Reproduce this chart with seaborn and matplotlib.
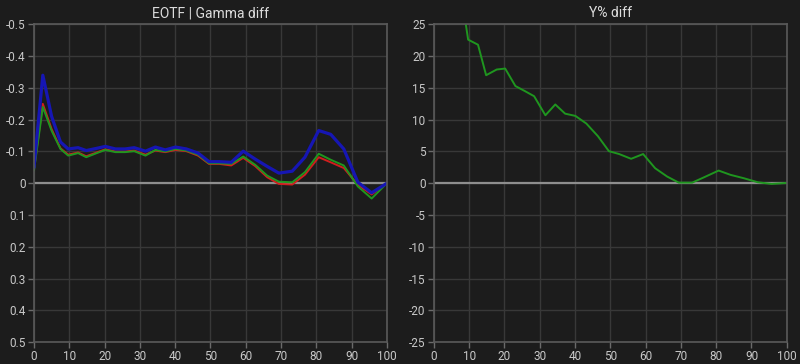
import numpy as np
import pandas as pd
import matplotlib
matplotlib.use('Agg')
import matplotlib.pyplot as plt
import seaborn as sns

# stimulus levels (%)
nivel = [0, 2.5, 5, 7.5, 9.7, 12.5, 14.8, 17.8, 20.2, 23.1, 25.8, 28.4, 31.6, 34.4, 37.2, 40.1,
         43.2, 46.5, 49.6, 52.5, 55.9, 59.3, 62.7, 66.1, 69.4, 73.2, 76.8, 80.7, 84.1, 87.8,
         91.8, 95.7, 100]

# EOTF gamma diff per channel
gamma_azul = [-0.05, -0.34, -0.21, -0.13, -0.108, -0.112, -0.103, -0.11, -0.116, -0.108, -0.108,
              -0.112, -0.101, -0.114, -0.105, -0.114, -0.108, -0.095, -0.068, -0.068, -0.066,
              -0.101, -0.076, -0.053, -0.032, -0.038, -0.082, -0.166, -0.154, -0.108, -0.003,
              0.03, 0.0]
gamma_verde = [-0.04, -0.24, -0.165, -0.108, -0.087, -0.095, -0.082, -0.095, -0.105, -0.098,
               -0.098, -0.101, -0.087, -0.105, -0.1, -0.108, -0.103, -0.09, -0.063, -0.063,
               -0.061, -0.084, -0.058, -0.024, -0.005, -0.003, -0.035, -0.093, -0.074, -0.056,
               0.01, 0.048, 0.0]
gamma_vermelho = [-0.045, -0.25, -0.17, -0.11, -0.09, -0.097, -0.085, -0.097, -0.107, -0.1,
                  -0.1, -0.103, -0.09, -0.103, -0.098, -0.105, -0.101, -0.087, -0.061, -0.061,
                  -0.056, -0.08, -0.054, -0.019, 0.002, 0.004, -0.027, -0.082, -0.066, -0.048,
                  0.005, 0.035, 0.0]

# Y% diff
y_diff = [100, 70, 45, 30.7, 22.6, 21.8, 17.0, 17.9, 18.05, 15.3, 14.5, 13.7, 10.7, 12.4, 10.95,
          10.6, 9.4, 7.4, 5.05, 4.6, 3.85, 4.6, 2.37, 1.06, 0.1, 0.1, 1.0, 2.0, 1.32, 0.8, 0.16,
          -0.1, 0.05]

ticks_gamma = [-0.5, -0.4, -0.3, -0.2, -0.1, 0, 0.1, 0.2, 0.3, 0.4, 0.5]
ticks_y = [25, 20, 15, 10, 5, 0, -5, -10, -15, -20, -25]
ticks_x = list(range(0, 101, 10))

fundo = '#1c1c1c'
sns.set_theme(style='dark', rc={
    'figure.facecolor': fundo, 'axes.facecolor': fundo,
    'axes.edgecolor': '#5a5a5a', 'grid.color': '#383838',
    'text.color': '#d8d8d8', 'xtick.color': '#c8c8c8', 'ytick.color': '#c8c8c8',
    'axes.labelcolor': '#c8c8c8', 'axes.unicode_minus': False,
})
plt.rcParams['font.family'] = ['Roboto', 'DejaVu Sans']

df = pd.DataFrame({'nivel': nivel, 'azul': gamma_azul, 'verde': gamma_verde,
                   'vermelho': gamma_vermelho, 'y': y_diff})

fig, (ax1, ax2) = plt.subplots(1, 2, figsize=(8, 3.64), dpi=100)
fig.subplots_adjust(left=0.0425, right=0.9834, bottom=0.06, top=0.933, wspace=0.1335)

sns.lineplot(data=df, x='nivel', y='vermelho', ax=ax1, color='#d01e1e', linewidth=1.4)
sns.lineplot(data=df, x='nivel', y='verde', ax=ax1, color='#1f961f', linewidth=1.4)
sns.lineplot(data=df, x='nivel', y='azul', ax=ax1, color='#1616b4', linewidth=2.3)
ax1.set_ylim(0.5, -0.5)
ax1.set_yticks(ticks_gamma)
ax1.set_yticklabels(['{:g}'.format(t) for t in ticks_gamma])
ax1.set_title('EOTF | Gamma diff', fontsize=10, color='#dcdcdc', pad=5)

sns.lineplot(data=df, x='nivel', y='y', ax=ax2, color='#1f961f', linewidth=1.4)
ax2.set_ylim(-25, 25)
ax2.set_yticks(ticks_y)
ax2.set_title('Y% diff', fontsize=10, color='#dcdcdc', pad=5)

for ax in (ax1, ax2):
    ax.set_xlim(0, 100)
    ax.set_xticks(ticks_x)
    ax.set_xlabel('')
    ax.set_ylabel('')
    ax.grid(True, color='#383838', linewidth=1)
    ax.axhline(0, color='#8e8e8e', linewidth=1.6, zorder=1)
    ax.tick_params(axis='both', labelsize=8.5, length=4, width=1, color='#6a6a6a', pad=2,
                   bottom=True, left=True)
    for s in ax.spines.values():
        s.set_color('#5a5a5a')
        s.set_linewidth(1.2)

plt.savefig('out.png', dpi=100, facecolor=fundo)
